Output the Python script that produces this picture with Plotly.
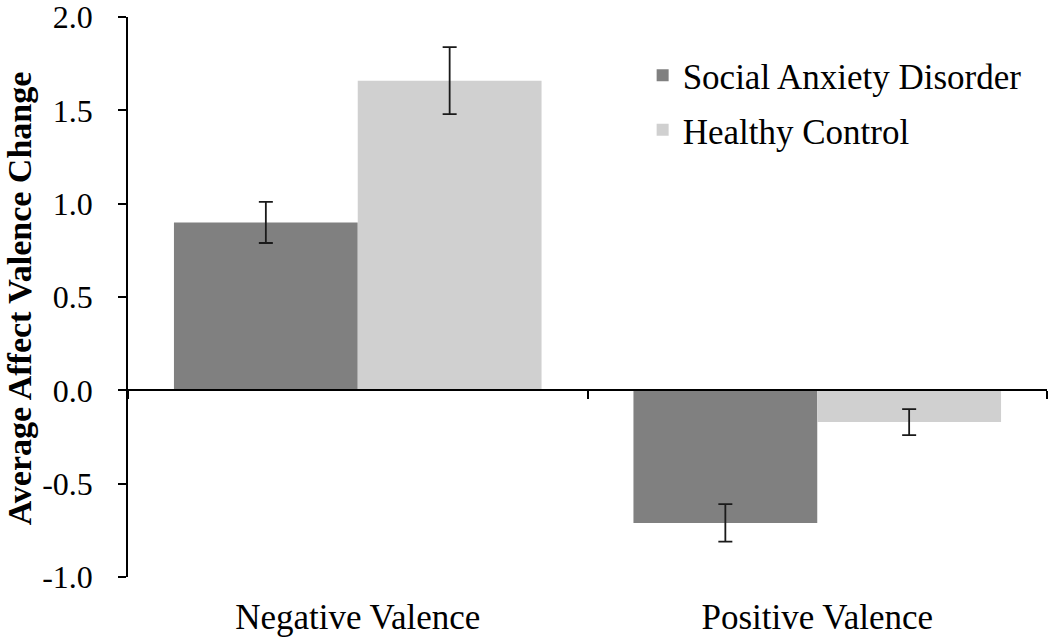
import plotly.graph_objects as go

categories = ["Negative Valence", "Positive Valence"]
series_names = ["Social Anxiety Disorder", "Healthy Control"]
sad_values = [0.90, -0.71]
sad_errors = [0.11, 0.10]
hc_values = [1.66, -0.17]
hc_errors = [0.18, 0.07]
y_tick_vals = [-1.0, -0.5, 0.0, 0.5, 1.0, 1.5, 2.0]
y_tick_text = ["-1.0", "-0.5", "0.0", "0.5", "1.0", "1.5", "2.0"]
y_title = "Average Affect Valence Change"

FONT = "Times New Roman, Liberation Serif, Tinos, serif"
err_style = dict(type="data", visible=True, color="#1a1a1a", thickness=1.8, width=7)

fig = go.Figure()
fig.add_trace(go.Bar(
    x=categories, y=sad_values, name=series_names[0], legendgroup="sad",
    marker=dict(color="#808080", line=dict(width=0)),
    error_y=dict(array=sad_errors, **err_style),
))
fig.add_trace(go.Bar(
    x=categories, y=hc_values, name=series_names[1], legendgroup="hc",
    marker=dict(color="#d0d0d0", line=dict(width=0)),
    error_y=dict(array=hc_errors, **err_style),
))
# invisible helper trace so the zero-level category axis is drawn
fig.add_trace(go.Scatter(
    x=categories, y=[0, 0], xaxis="x2", mode="markers",
    marker=dict(opacity=0), showlegend=False, hoverinfo="skip",
))

fig.update_layout(
    width=1050, height=642,
    margin=dict(l=128, r=3, t=17, b=65, autoexpand=False),
    paper_bgcolor="white", plot_bgcolor="white",
    font=dict(family=FONT, size=33, color="black"),
    barmode="group", bargap=0.2, bargroupgap=0,
    showlegend=True,
    legend=dict(
        x=0.56, y=0.948, xanchor="left", yanchor="top",
        bgcolor="rgba(0,0,0,0)", font=dict(family=FONT, size=35),
        traceorder="grouped", tracegroupgap=6,
    ),
    xaxis=dict(
        type="category", categoryorder="array", categoryarray=categories,
        range=[-0.5, 1.5], showline=False, ticks="", showgrid=False,
        zeroline=False, tickfont=dict(family=FONT, size=35),
        ticklabelstandoff=16,
    ),
    xaxis2=dict(
        type="category", categoryorder="array", categoryarray=categories,
        range=[-0.5, 1.5], overlaying="x", anchor="free", position=1/3,
        side="bottom", showline=True, linecolor="black", linewidth=1.5,
        ticks="outside", tickson="boundaries", ticklen=8, tickwidth=1.5,
        tickcolor="black", showticklabels=False, showgrid=False, zeroline=False,
    ),
    yaxis=dict(
        range=[-1.0, 2.001], tickvals=y_tick_vals, ticktext=y_tick_text,
        showline=True, linecolor="black", linewidth=1.5,
        ticks="outside", ticklen=8, tickwidth=1.5, tickcolor="black",
        showgrid=False, zeroline=False, ticklabeloverflow="allow",
        tickfont=dict(family=FONT, size=32), ticklabelstandoff=19,
    ),
    annotations=[dict(
        text="<b>" + y_title + "</b>", textangle=-90,
        xref="paper", yref="paper", x=-0.1180, y=0.497,
        xanchor="center", yanchor="middle", showarrow=False,
        font=dict(family=FONT, size=34, color="black"),
    )],
)

fig.write_html(
    "out.html",
    config={"displayModeBar": False},
    post_script="document.body.style.margin='0px';document.body.style.padding='0px';",
)
